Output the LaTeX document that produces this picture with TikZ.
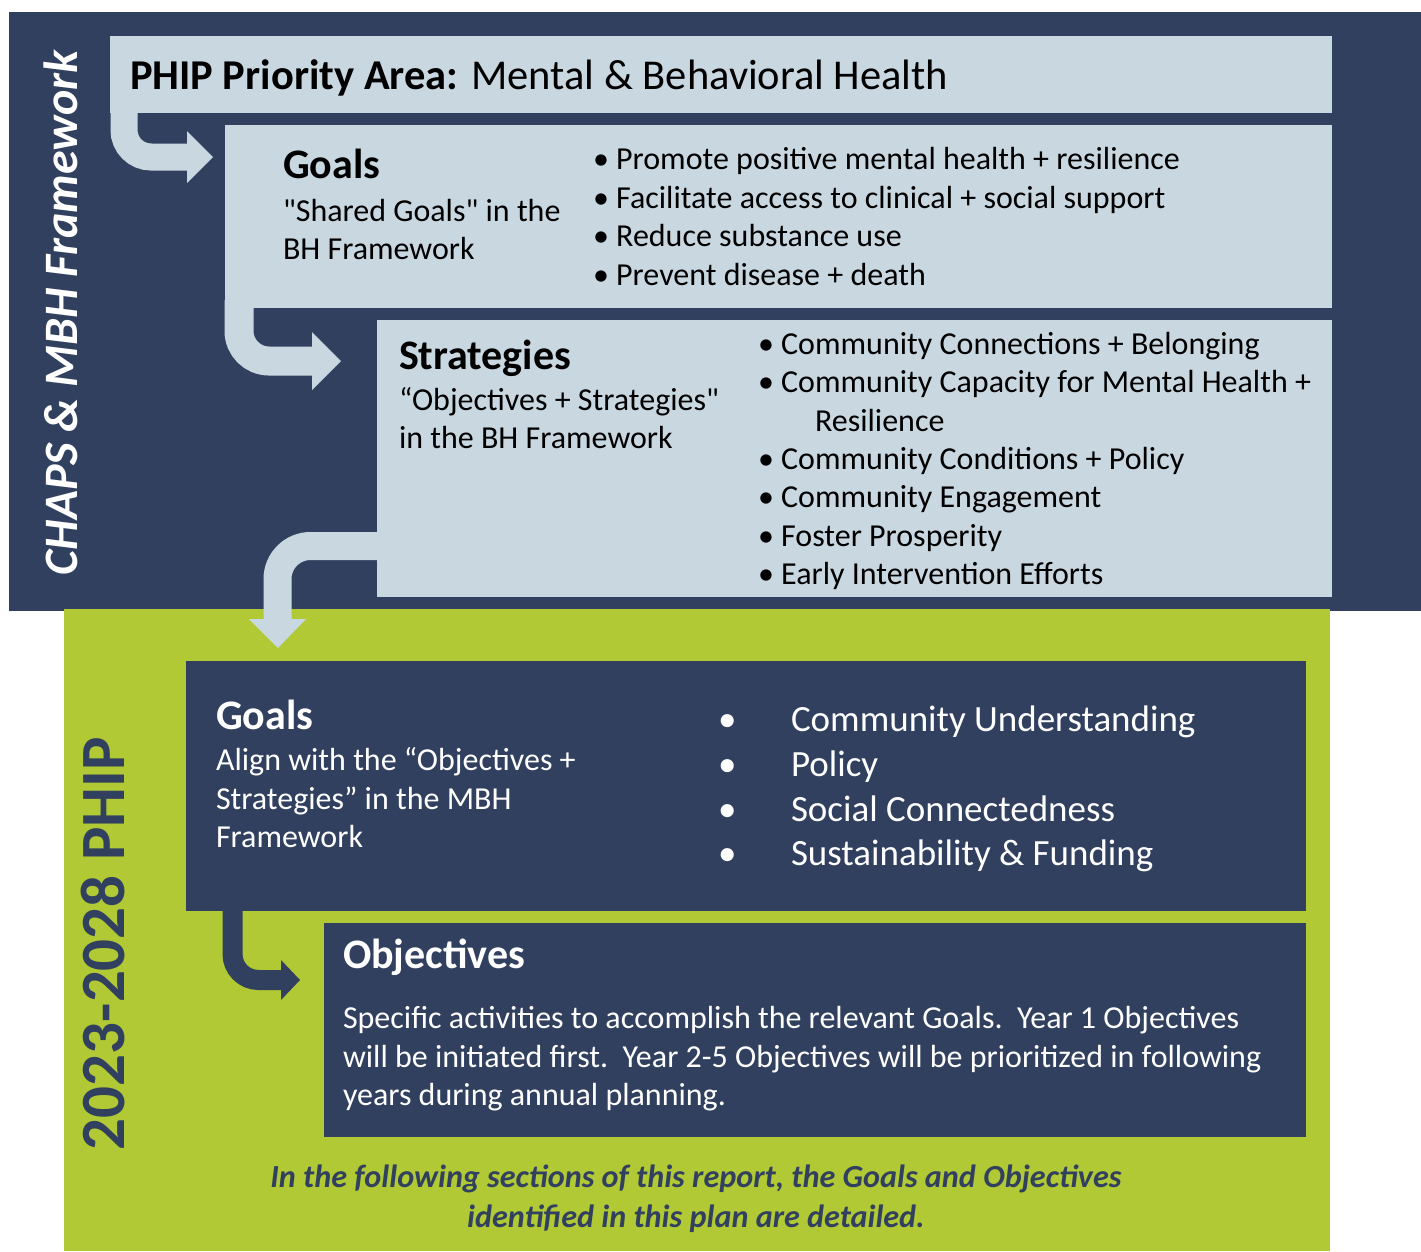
\documentclass[tikz,border=0pt]{standalone}
\usepackage{fontspec}
\setmainfont{Carlito}[Ligatures=TeXOff]
\definecolor{navy}{RGB}{50,64,96}
\definecolor{lightb}{RGB}{201,216,224}
\definecolor{lime}{RGB}{176,201,52}
\begin{document}
\begin{tikzpicture}[x=1pt,y=-1pt,
  txt/.style={anchor=base west, inner sep=0pt, outer sep=0pt},
  fbig/.style={font=\fontsize{42.5}{50}\selectfont},
  fbigb/.style={font=\fontsize{42}{50}\selectfont\bfseries},
  fmid/.style={font=\fontsize{32}{38}\selectfont},
  flow/.style={font=\fontsize{37}{45}\selectfont},
  fital/.style={font=\fontsize{32.2}{38}\selectfont\bfseries\itshape},
  lightarrow/.style={draw=lightb, line width=28pt, rounded corners=30pt},
  navyarrow/.style={draw=navy, line width=20pt, rounded corners=26pt},
  panel/.style={fill=lightb, draw=none},
  dpanel/.style={fill=navy, draw=none}]
\useasboundingbox (0,0) rectangle (1421,1251);
\fill[white] (0,0) rectangle (1421,1251);
% backgrounds
\fill[navy] (9,12) rectangle (1421,611);
\fill[lime] (64,609) rectangle (1330,1251);
% light panels
\path[panel] (110,36) rectangle (1332,113);
\path[panel] (225,125) rectangle (1332,308);
\path[panel] (377,320) rectangle (1332,597);
% dark panels
\path[dpanel] (186,661) rectangle (1306,911);
\path[dpanel] (324,923) rectangle (1306,1137);
% arrow 1
\coordinate (a1s) at (124,105);
\coordinate (a1c) at (124,157);
\coordinate (a1e) at (189,157);
\draw[lightarrow, line width=27pt, rounded corners=27pt] (a1s) -- (a1c) -- (a1e);
\fill[lightb] (187,131) -- (213,157) -- (187,183) -- cycle;
% arrow 2
\coordinate (a2s) at (239,300);
\coordinate (a2c) at (239,361);
\coordinate (a2e) at (314,361);
\draw[lightarrow, line width=29pt] (a2s) -- (a2c) -- (a2e);
\fill[lightb] (312,332) -- (341,361) -- (312,390) -- cycle;
% arrow 3
\coordinate (a3s) at (385,546);
\coordinate (a3c) at (277.5,546);
\coordinate (a3e) at (277.5,621);
\draw[lightarrow, rounded corners=33pt] (a3s) -- (a3c) -- (a3e);
\fill[lightb] (249,619) -- (278,648) -- (306,619) -- cycle;
% arrow 4
\coordinate (a4s) at (232.5,905);
\coordinate (a4c) at (232.5,980);
\coordinate (a4e) at (283,980);
\draw[navyarrow] (a4s) -- (a4c) -- (a4e);
\fill[navy] (281,960) -- (300,980) -- (281,1000) -- cycle;
% rotated labels
\node[txt, rotate=90, text=white, font=\fontsize{48}{56}\selectfont\bfseries\itshape] (chaps) at (77,575) {CHAPS \& MBH Framework};
\node[txt, rotate=90, text=navy, font=\fontsize{63}{70}\selectfont\bfseries] (phip) at (124,1150) {2023-2028 PHIP};
% title
\node[txt, fbig] (title) at (130,89.5) {\textbf{PHIP Priority Area:} Mental \& Behavioral Health};
% upper goals
\node[txt, fbigb] (g1h) at (283,178.5) {Goals};
\node[txt, fmid] (g1a) at (283,221) {"Shared Goals" in the};
\node[txt, fmid] (g1b) at (283,259) {BH Framework};
\node[txt, fmid] (g1l1) at (593,169) {• Promote positive mental health + resilience};
\node[txt, fmid] (g1l2) at (593,208) {• Facilitate access to clinical + social support};
\node[txt, fmid] (g1l3) at (593,246) {• Reduce substance use};
\node[txt, fmid] (g1l4) at (593,285) {• Prevent disease + death};
% strategies
\node[txt, fbigb] (sh) at (399,369) {Strategies};
\node[txt, fmid] (sa) at (399,410) {“Objectives + Strategies"};
\node[txt, fmid] (sb) at (399,448) {in the BH Framework};
\node[txt, fmid] (sl1) at (758,354) {• Community Connections + Belonging};
\node[txt, fmid] (sl2) at (758,392) {• Community Capacity for Mental Health +};
\node[txt, fmid] (sl2b) at (815,431) {Resilience};
\node[txt, fmid] (sl3) at (758,469) {• Community Conditions + Policy};
\node[txt, fmid] (sl4) at (758,507) {• Community Engagement};
\node[txt, fmid] (sl5) at (758,546) {• Foster Prosperity};
\node[txt, fmid] (sl6) at (758,584) {• Early Intervention Efforts};
% lower goals
\node[txt, fbigb, text=white] (g2h) at (216,729.5) {Goals};
\node[txt, fmid, text=white] (g2a) at (216,770) {Align with the “Objectives +};
\node[txt, fmid, text=white] (g2b) at (216,809) {Strategies” in the MBH};
\node[txt, fmid, text=white] (g2c) at (216,847) {Framework};
\node[txt, flow, text=white] (b1) at (718,731) {•};
\node[txt, flow, text=white] (b2) at (718,776) {•};
\node[txt, flow, text=white] (b3) at (718,821) {•};
\node[txt, flow, text=white] (b4) at (718,865) {•};
\node[txt, flow, text=white] (g2l1) at (791,731) {Community Understanding};
\node[txt, flow, text=white] (g2l2) at (791,776) {Policy};
\node[txt, flow, text=white] (g2l3) at (791,821) {Social Connectedness};
\node[txt, flow, text=white] (g2l4) at (791,865) {Sustainability \& Funding};
% objectives
\node[txt, fbigb, text=white] (oh) at (343,968.5) {Objectives};
\node[txt, fmid, text=white] (o1) at (343,1028) {Specific activities to accomplish the relevant Goals.\ \ Year 1 Objectives};
\node[txt, fmid, text=white] (o2) at (343,1067) {will be initiated first.\ \ Year 2-5 Objectives will be prioritized in following};
\node[txt, fmid, text=white] (o3) at (343,1105) {years during annual planning.};
% footer
\node[anchor=base, inner sep=0pt, fital, text=navy] (f1) at (696,1187) {In the following sections of this report, the Goals and Objectives};
\node[anchor=base, inner sep=0pt, fital, text=navy] (f2) at (696,1227) {identified in this plan are detailed.};
\end{tikzpicture}
\end{document}
